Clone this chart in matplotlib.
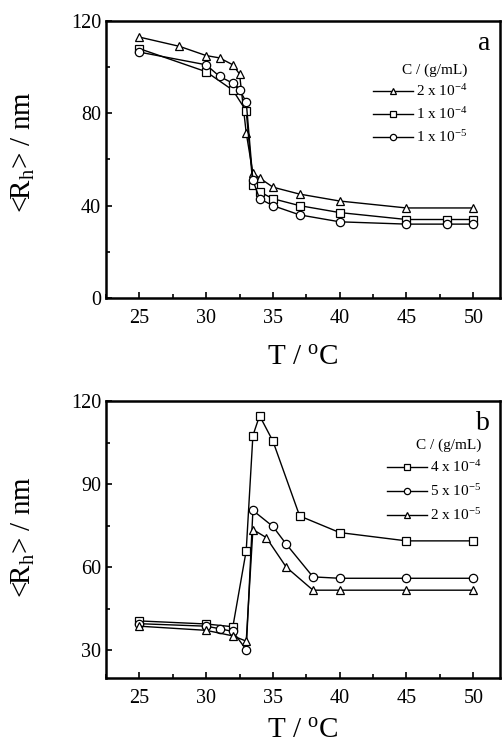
import matplotlib
matplotlib.use("Agg")
import matplotlib.pyplot as plt
from matplotlib.ticker import MultipleLocator

plt.rcParams['font.family'] = ['Liberation Serif', 'DejaVu Serif']
plt.rcParams['mathtext.fontset'] = 'custom'
plt.rcParams['mathtext.rm'] = 'Liberation Serif'
plt.rcParams['mathtext.it'] = 'Liberation Serif:italic'
plt.rcParams['mathtext.default'] = 'regular'

# ---- Panel a data ----
a_T1 = [25, 28, 30, 31, 32, 32.5, 33, 33.5, 34, 35, 37, 40, 45, 50]
a_R1 = [113, 109, 105, 104, 101, 97, 71.5, 54, 52, 48, 45, 42, 39, 39]
a_T2 = [25, 30, 32, 33, 33.5, 34, 35, 37, 40, 45, 48, 50]
a_R2 = [108, 98, 90, 81, 49, 46, 43, 40, 37, 34, 34, 34]
a_T3 = [25, 30, 31, 32, 32.5, 33, 33.5, 34, 35, 37, 40, 45, 48, 50]
a_R3 = [106.5, 101, 96, 93, 90, 85, 51, 43, 40, 36, 33, 32, 32, 32]
a_labels = [r'2 x 10$^{-4}$', r'1 x 10$^{-4}$', r'1 x 10$^{-5}$']

# ---- Panel b data ----
b_T1 = [25, 30, 32, 33, 33.5, 34, 35, 37, 40, 45, 50]
b_R1 = [40.6, 39.5, 38.5, 66, 107.5, 114.7, 105.5, 78.5, 72.5, 69.5, 69.5]
b_T2 = [25, 30, 31, 32, 33, 33.5, 35, 36, 38, 40, 45, 50]
b_R2 = [39.6, 38.7, 37.8, 36.8, 30.2, 80.5, 74.7, 68.3, 56.5, 56, 56, 56]
b_T3 = [25, 30, 32, 33, 33.5, 34.5, 36, 38, 40, 45, 50]
b_R3 = [38.7, 37.2, 35.2, 33.3, 73.6, 70.7, 60, 51.7, 51.7, 51.7, 51.7]
b_labels = [r'4 x 10$^{-4}$', r'5 x 10$^{-5}$', r'2 x 10$^{-5}$']

x_ticks = [25, 30, 35, 40, 45, 50]

fig = plt.figure(figsize=(5.03, 7.48), dpi=100)
ax_a = fig.add_axes([0.2107, 0.6016, 0.7833, 0.3704])
ax_b = fig.add_axes([0.2107, 0.0936, 0.7833, 0.3703])

mk = dict(color='black', markerfacecolor='white', markeredgecolor='black',
          markersize=6, linewidth=1.0, markeredgewidth=0.9)

ax_a.plot(a_T1, a_R1, marker='^', label=a_labels[0], **mk)
ax_a.plot(a_T2, a_R2, marker='s', label=a_labels[1], **mk)
ax_a.plot(a_T3, a_R3, marker='o', label=a_labels[2], **mk)

ax_b.plot(b_T1, b_R1, marker='s', label=b_labels[0], **mk)
ax_b.plot(b_T2, b_R2, marker='o', label=b_labels[1], **mk)
ax_b.plot(b_T3, b_R3, marker='^', label=b_labels[2], **mk)

for ax, ylim, ymaj, ymin, tag, leg_anchor, lsp, xpad, ylab_y in [
        (ax_a, (0, 120), 40, 20, 'a', (0.678, 0.848), 0.45, 12, 0.525),
        (ax_b, (20, 120), 30, 15, 'b', (0.713, 0.866), 0.52, 7, 0.51)]:
    ax.set_xlim(22.5, 52)
    ax.set_ylim(*ylim)
    ax.set_xticks(x_ticks)
    ax.xaxis.set_minor_locator(MultipleLocator(2.5))
    ax.yaxis.set_major_locator(MultipleLocator(ymaj))
    ax.yaxis.set_minor_locator(MultipleLocator(ymin))
    ax.tick_params(which='both', direction='in', labelsize=14.5, width=1.2)
    ax.tick_params(which='major', length=4)
    ax.tick_params(which='minor', length=3)
    ax.tick_params(axis='x', pad=8)
    for s in ax.spines.values():
        s.set_linewidth(1.8)
    ax.set_xlabel(r'T / $^{o}$C', fontsize=21, labelpad=xpad)
    ax.set_ylabel(r'<R$_{h}$> / nm', fontsize=21)
    ax.yaxis.set_label_coords(-0.175, ylab_y)
    ax.text(0.975, 0.965, tag, transform=ax.transAxes, ha='right', va='top',
            fontsize=20)
    leg = ax.legend(loc='upper left', bbox_to_anchor=leg_anchor, frameon=False,
                    title='C / (g/mL)', fontsize=11, title_fontsize=11,
                    handlelength=2.6, handletextpad=0.2, labelspacing=lsp,
                    markerscale=0.75, borderaxespad=0, borderpad=0)
    leg._legend_box.align = 'right'

fig.savefig('out.png', dpi=100)
